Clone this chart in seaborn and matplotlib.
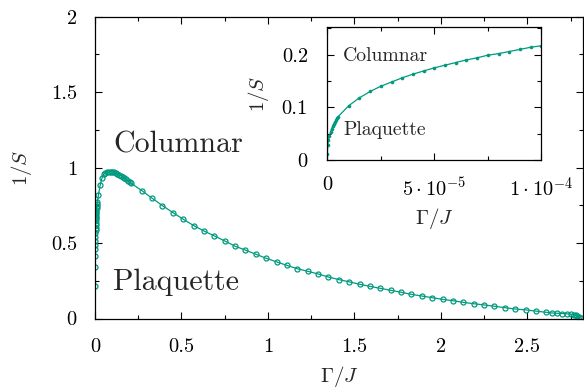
import numpy as np
import pandas as pd
import matplotlib
matplotlib.use("Agg")
import matplotlib.pyplot as plt
import seaborn as sns
from matplotlib.ticker import MultipleLocator

# ---------------- data ----------------
gamma_main = [1e-4, 4e-4, 7e-4, 1e-3, 1.3e-3, 1.6e-3, 2e-3, 2.5e-3, 3e-3, 3.5e-3,
              4e-3, 4.5e-3, 5e-3, 5.5e-3, 6e-3, 6.5e-3, 7e-3, 7.5e-3, 8e-3, 9e-3,
              0.010, 0.012, 0.014, 0.020, 0.030, 0.040, 0.050,
              0.06, 0.07, 0.08, 0.09, 0.10, 0.11, 0.12, 0.13, 0.14, 0.15,
              0.16, 0.17, 0.18, 0.19, 0.20,
              0.21, 0.27, 0.33, 0.39, 0.45, 0.51, 0.57, 0.63, 0.69, 0.75,
              0.81, 0.87, 0.93, 0.99, 1.05, 1.11, 1.17, 1.23, 1.29, 1.35,
              1.41, 1.47, 1.53, 1.59, 1.65, 1.71, 1.77, 1.83, 1.89, 1.95,
              2.01, 2.07, 2.13, 2.19, 2.25, 2.31, 2.37, 2.43, 2.49, 2.55,
              2.61, 2.64, 2.67, 2.70, 2.73, 2.75, 2.77, 2.78, 2.79, 2.80, 2.81]
invS_main = [0.216, 0.344, 0.415, 0.459, 0.488, 0.515, 0.540, 0.565, 0.585, 0.603,
             0.620, 0.636, 0.650, 0.663, 0.675, 0.686, 0.697, 0.707, 0.716, 0.733,
             0.748, 0.760, 0.770, 0.820, 0.885, 0.930, 0.955,
             0.964, 0.969, 0.972, 0.973, 0.972, 0.969, 0.965, 0.959, 0.953, 0.946,
             0.939, 0.931, 0.923, 0.914, 0.905,
             0.895, 0.848, 0.797, 0.748, 0.702, 0.658, 0.616, 0.580, 0.547, 0.514,
             0.479, 0.453, 0.426, 0.399, 0.375, 0.352, 0.330, 0.313, 0.295, 0.275,
             0.258, 0.243, 0.227, 0.213, 0.200, 0.187, 0.174, 0.160, 0.149, 0.138,
             0.127, 0.118, 0.107, 0.098, 0.090, 0.081, 0.072, 0.063, 0.057, 0.049,
             0.041, 0.037, 0.035, 0.033, 0.031, 0.029, 0.026, 0.022, 0.016, 0.008, 0.002]

gamma_inset = [0.0, 2e-7, 5e-7, 1e-6, 1.5e-6, 2e-6, 2.5e-6, 3e-6, 3.5e-6, 4e-6, 4.5e-6, 5e-6,
               1.0e-5, 1.5e-5, 2.0e-5, 2.5e-5, 3.0e-5, 3.5e-5, 4.0e-5, 4.5e-5, 5.0e-5,
               5.5e-5, 6.0e-5, 6.5e-5, 7.0e-5, 7.5e-5, 8.0e-5, 8.5e-5, 9.0e-5, 9.5e-5, 1.0e-4]
invS_inset = [0.011, 0.028, 0.037, 0.046, 0.053, 0.059, 0.064, 0.068, 0.072, 0.075, 0.079, 0.082,
              0.103, 0.118, 0.130, 0.140, 0.148, 0.156, 0.163, 0.169, 0.175,
              0.180, 0.185, 0.190, 0.194, 0.199, 0.202, 0.206, 0.210, 0.214, 0.217]

main_xticks = [0, 0.5, 1, 1.5, 2, 2.5]
main_xticklabels = ["0", "0.5", "1", "1.5", "2", "2.5"]
main_yticks = [0, 0.5, 1, 1.5, 2]
main_yticklabels = ["0", "0.5", "1", "1.5", "2"]
inset_xticks = [0, 5e-5, 1e-4]
inset_xticklabels = ["0", r"$5\cdot10^{-5}$", r"$1\cdot10^{-4}$"]
inset_yticks = [0, 0.1, 0.2]
inset_yticklabels = ["0", "0.1", "0.2"]

color = "#009a7e"

# ---------------- style ----------------
sns.set_theme(style="ticks")
plt.rcParams.update({
    "font.family": ["serif"],
    "font.serif": ["cmr10"],
    "mathtext.fontset": "cm",
    "axes.formatter.use_mathtext": True,
    "axes.linewidth": 0.9,
    "axes.edgecolor": "black",
    "xtick.color": "black",
    "ytick.color": "black",
})

fig = plt.figure(figsize=(5.84, 3.90), dpi=100)
ax = fig.add_axes([0.1627, 0.1833, 0.835, 0.774])

df_main = pd.DataFrame({"g": gamma_main, "s": invS_main})
sns.lineplot(data=df_main, x="g", y="s", ax=ax, color=color, lw=0.9,
             marker="o", markersize=3.6, markerfacecolor="none",
             markeredgecolor=color, markeredgewidth=0.9,
             estimator=None, sort=False)

ax.set_xlim(0, 2.82)
ax.set_ylim(0, 2)
ax.set_xticks(main_xticks, main_xticklabels)
ax.set_yticks(main_yticks, main_yticklabels)
ax.xaxis.set_minor_locator(MultipleLocator(0.25))
ax.yaxis.set_minor_locator(MultipleLocator(0.25))
ax.tick_params(which="both", direction="in", top=True, right=True,
               labelsize=14.7, width=0.8, colors="black")
ax.tick_params(which="major", length=5)
ax.tick_params(which="minor", length=3)
ax.tick_params(axis="x", pad=14)
ax.tick_params(axis="y", pad=13)
ax.set_xlabel(r"$\Gamma/J$", fontsize=15, labelpad=6)
ax.set_ylabel(r"$1/S$", fontsize=15, labelpad=12)
for sp in ax.spines.values():
    sp.set_visible(True)
    sp.set_color("black")

ax.text(0.105, 1.15, "Columnar", fontsize=21.6, va="center", ha="left")
ax.text(0.105, 0.24, "Plaquette", fontsize=21.6, va="center", ha="left")

# ---------------- inset ----------------
axi = fig.add_axes([0.5605, 0.590, 0.3664, 0.340])
df_in = pd.DataFrame({"g": gamma_inset, "s": invS_inset})
sns.lineplot(data=df_in, x="g", y="s", ax=axi, color=color, lw=0.9,
             marker="o", markersize=2.6, markerfacecolor=color,
             markeredgecolor=color, markeredgewidth=0,
             estimator=None, sort=False)
axi.set_xlim(0, 1e-4)
axi.set_ylim(0, 0.252)
axi.set_xticks(inset_xticks, inset_xticklabels)
axi.set_yticks(inset_yticks, inset_yticklabels)
axi.xaxis.set_minor_locator(MultipleLocator(2.5e-5))
axi.yaxis.set_minor_locator(MultipleLocator(0.05))
axi.tick_params(which="both", direction="in", top=True, right=True,
                labelsize=14.7, width=0.8, colors="black")
axi.tick_params(which="major", length=5)
axi.tick_params(which="minor", length=3)
axi.tick_params(axis="x", pad=12)
axi.tick_params(axis="y", pad=14)
axi.set_xlabel(r"$\Gamma/J$", fontsize=15, labelpad=4)
axi.set_ylabel(r"$1/S$", fontsize=15, labelpad=8)
for sp in axi.spines.values():
    sp.set_visible(True)
    sp.set_color("black")
axi.text(7.3e-6, 0.197, "Columnar", fontsize=14.2, va="center", ha="left")
axi.text(7.3e-6, 0.057, "Plaquette", fontsize=14.2, va="center", ha="left")

fig.savefig("out.png", dpi=100)
